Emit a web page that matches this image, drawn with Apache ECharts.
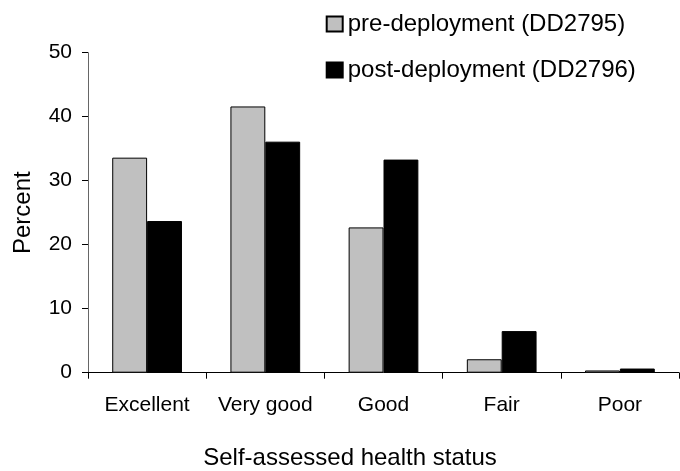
<!DOCTYPE html>
<html>
<head>
<meta charset="utf-8">
<script src="https://cdn.jsdelivr.net/npm/echarts@6/dist/echarts.min.js"></script>
<style>html,body{margin:0;padding:0;background:#fff;}#c{width:680px;height:471px;}</style>
</head>
<body>
<div id="c"></div>
<script>
const categories = ['Excellent', 'Very good', 'Good', 'Fair', 'Poor'];
const preDeployment = [33.6, 41.6, 22.7, 2.1, 0.35];
const postDeployment = [23.7, 36.1, 33.3, 6.5, 0.65];
const seriesNames = ['pre-deployment (DD2795)', 'post-deployment (DD2796)'];
const yTicks = { min: 0, max: 50, interval: 10 };

const font = '"Liberation Sans", Arial, sans-serif';
const chart = echarts.init(document.getElementById('c'), null, { renderer: 'canvas' });
chart.setOption({
  animation: false,
  backgroundColor: '#fff',
  textStyle: { fontFamily: font, color: '#000' },
  legend: {
    orient: 'vertical',
    left: 325.7,
    top: 12,
    padding: 0,
    icon: 'rect',
    itemWidth: 16,
    itemHeight: 15,
    itemGap: 22,
    textStyle: { fontFamily: font, fontSize: 24, color: '#000' },
    data: seriesNames
  },
  grid: { left: 88, top: 52.7, right: 1, bottom: 98.3, containLabel: false, outerBoundsMode: 'none' },
  xAxis: {
    type: 'category',
    data: categories,
    name: 'Self-assessed health status',
    nameLocation: 'middle',
    nameGap: 74,
    nameTextStyle: { fontFamily: font, fontSize: 24, color: '#000', padding: [0, 67, 0, 0] },
    axisLine: { lineStyle: { color: '#000', width: 1 } },
    axisTick: { show: true, length: 6, lineStyle: { color: '#000' } },
    axisLabel: { fontFamily: font, fontSize: 21, color: '#000', margin: 22, interval: 0 },
    splitLine: { show: false }
  },
  yAxis: {
    type: 'value',
    min: yTicks.min,
    max: yTicks.max,
    interval: yTicks.interval,
    name: 'Percent',
    nameLocation: 'middle',
    nameGap: 53,
    nameTextStyle: { fontFamily: font, fontSize: 24, color: '#000' },
    axisLine: { show: true, lineStyle: { color: '#666', width: 1 } },
    axisTick: { show: true, length: 6, lineStyle: { color: '#000' } },
    axisLabel: { fontFamily: font, fontSize: 21, color: '#000', margin: 16 },
    splitLine: { show: false }
  },
  series: [
    {
      name: seriesNames[0],
      type: 'bar',
      data: preDeployment,
      barGap: '0%',
      barCategoryGap: '41%',
      itemStyle: { color: '#c0c0c0', borderColor: '#000', borderWidth: 1 }
    },
    {
      name: seriesNames[1],
      type: 'bar',
      data: postDeployment,
      barGap: '0%',
      barCategoryGap: '41%',
      itemStyle: { color: '#000', borderColor: '#000', borderWidth: 1 }
    }
  ]
});
</script>
</body>
</html>
